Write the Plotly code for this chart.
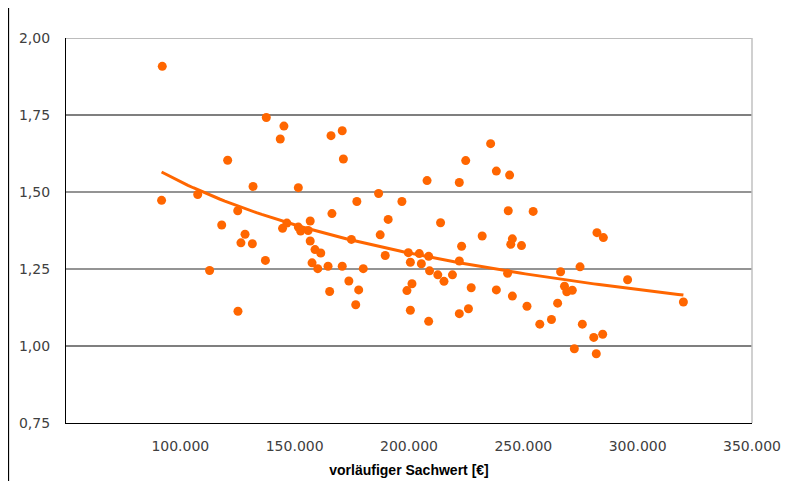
import numpy as np
import plotly.graph_objects as go

# vorläufiger Sachwert [€] und Marktanpassungsfaktor
sachwert = [92100, 91800, 107600, 112800, 118100, 120700, 125100, 125200, 126500, 128300,
            131500, 131800, 137200, 137600, 143700, 145300, 144700, 146600, 151600, 151600,
            152600, 155900, 156800, 156800, 157600, 158900, 160100, 161400, 164600, 165300,
            165900, 166300, 170800, 171300, 170800, 173700, 174800, 176700, 177200, 178000,
            180000, 186700, 187400, 189600, 190900, 196900, 199100, 199700, 200600, 200600,
            201300, 204500, 205400, 207900, 208600, 208600, 209000, 212600, 213800, 215300,
            219000, 222000, 222000, 222000, 223000, 224800, 226000, 227200, 232000, 235700,
            238200, 238200, 243100, 243400, 244000, 244500, 245200, 245200, 249200, 251600,
            254300, 257200, 262300, 265000, 266300, 268000, 269000, 271400, 272300, 274800,
            275800, 280800, 281900, 282200, 284700, 285000, 295600, 320000]
faktor = [1.908, 1.473, 1.492, 1.245, 1.393, 1.603, 1.439, 1.113, 1.335, 1.363,
          1.332, 1.518, 1.278, 1.742, 1.672, 1.714, 1.382, 1.399, 1.514, 1.386,
          1.373, 1.375, 1.406, 1.341, 1.270, 1.313, 1.251, 1.302, 1.259, 1.177,
          1.683, 1.430, 1.699, 1.607, 1.259, 1.211, 1.346, 1.134, 1.469, 1.182,
          1.251, 1.495, 1.361, 1.294, 1.411, 1.469, 1.180, 1.303, 1.272, 1.116,
          1.202, 1.300, 1.267, 1.537, 1.291, 1.080, 1.244, 1.231, 1.400, 1.210,
          1.231, 1.531, 1.276, 1.105, 1.324, 1.602, 1.121, 1.189, 1.357, 1.657,
          1.568, 1.182, 1.236, 1.439, 1.555, 1.330, 1.348, 1.162, 1.326, 1.129,
          1.437, 1.071, 1.086, 1.139, 1.241, 1.194, 1.176, 1.181, 0.991, 1.257,
          1.071, 1.028, 0.975, 1.368, 1.038, 1.352, 1.215, 1.143]

x_ticks = [100000, 150000, 200000, 250000, 300000, 350000]
y_ticks = [0.75, 1.00, 1.25, 1.50, 1.75, 2.00]

orange = "#FF6600"

# Potenz-Trendlinie wie in Excel (Regression im log-log-Raum)
xs = np.array(sachwert, dtype=float)
ys = np.array(faktor, dtype=float)
b, ln_a = np.polyfit(np.log(xs), np.log(ys), 1)
trend_x = np.linspace(xs.min(), xs.max(), 100)
trend_y = np.exp(ln_a) * trend_x ** b

fig = go.Figure()
fig.add_trace(go.Scatter(x=sachwert, y=faktor, mode="markers",
                         marker=dict(color=orange, size=9, line=dict(width=0)),
                         showlegend=False))
fig.add_trace(go.Scatter(x=trend_x, y=trend_y, mode="lines",
                         line=dict(color=orange, width=3), showlegend=False))

# Gitterlinien (teils schwarz, teils grau wie im Original)
grid_colors = {2.00: "#a6a6a6", 1.75: "#000000", 1.50: "#707070", 1.25: "#707070", 1.00: "#000000"}
for yv, col in grid_colors.items():
    fig.add_shape(type="line", xref="paper", yref="y", x0=0, x1=1, y0=yv, y1=yv,
                  line=dict(color=col, width=1.5 if col != "#000000" else 1.2), layer="below")
# rechter Rand der Zeichenfläche
fig.add_shape(type="line", xref="paper", yref="paper", x0=1, x1=1, y0=0, y1=1,
              line=dict(color="#c0c0c0", width=1.5))
# linker Diagrammrand
fig.add_shape(type="line", xref="paper", yref="paper", x0=-0.084, x1=-0.084, y0=-0.2, y1=1.1,
              line=dict(color="#000000", width=1.5))

tick_font = dict(family="DejaVu Sans, Verdana", size=14, color="#404040")

fig.update_layout(
    width=789, height=481,
    margin=dict(l=58, r=45, t=30, b=66),
    plot_bgcolor="white", paper_bgcolor="white",
    separators=",.",
    font=tick_font,
    xaxis=dict(range=[50000, 350000], tickvals=x_ticks, tickformat=",.0f",
               showgrid=False, zeroline=False, showline=True, linecolor="#000000", linewidth=1.2,
               ticks="", ticklabelstandoff=10, tickfont=tick_font,
               title=dict(text="<b>vorläufiger Sachwert [€]</b>", standoff=12,
                          font=dict(size=14, color="#000000",
                                    family="Liberation Sans Narrow, Arial Narrow, sans-serif"))),
    yaxis=dict(range=[0.75, 2.0], tickvals=y_ticks, tickformat=".2f",
               showgrid=False, zeroline=False, showline=True, linecolor="#000000", linewidth=1.2,
               ticks="", ticklabelstandoff=12, tickfont=tick_font),
)

fig.write_html("out.html")
